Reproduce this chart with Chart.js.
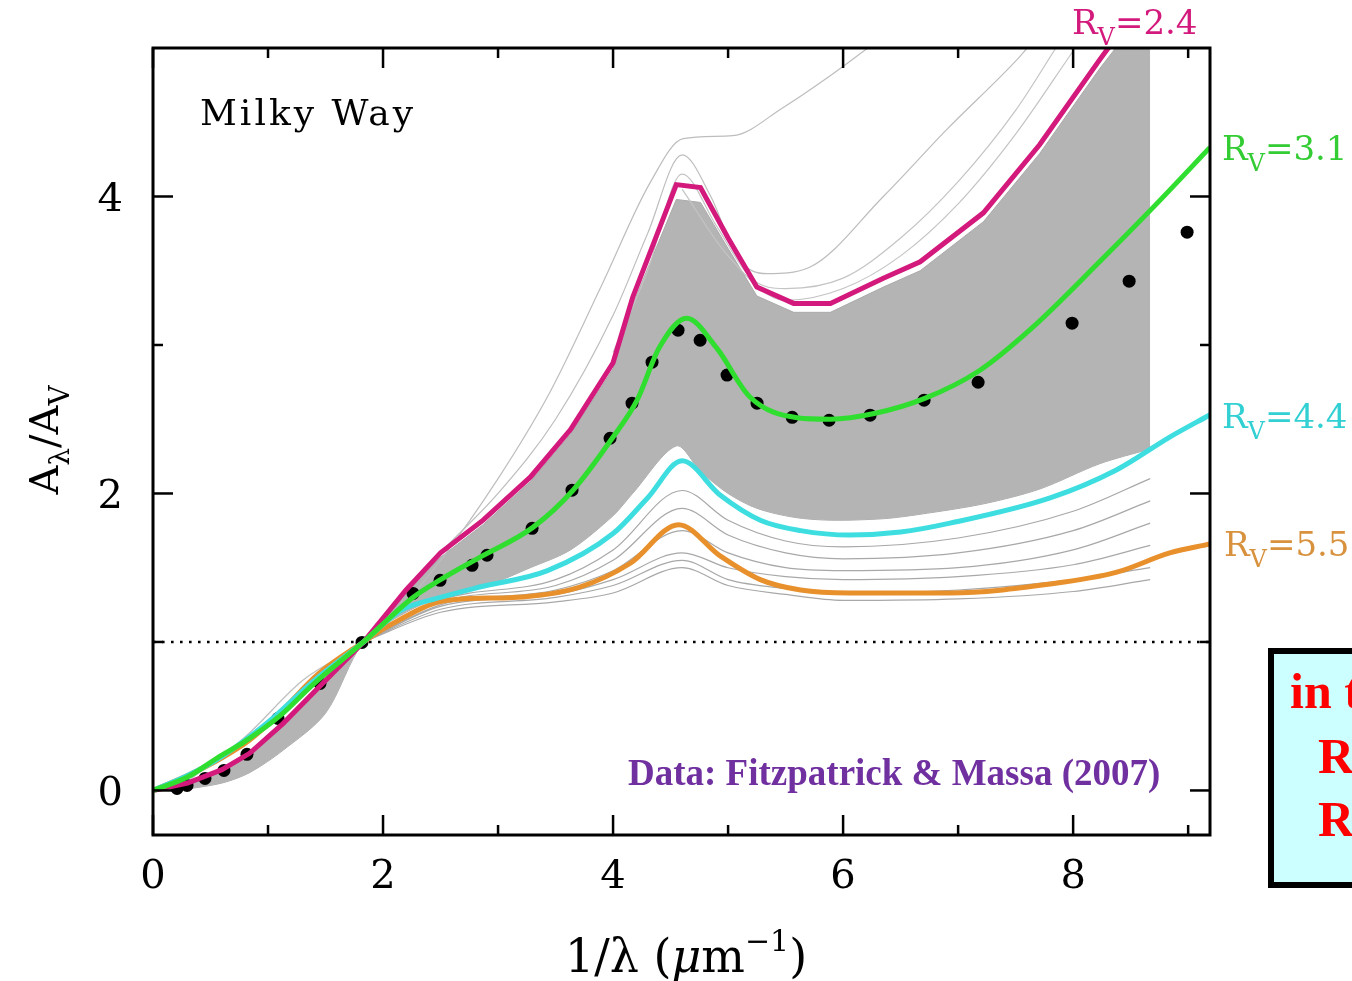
<!DOCTYPE html>
<html><head><meta charset="utf-8">
<script src="https://cdn.jsdelivr.net/npm/chart.js@4"></script>
<style>html,body{margin:0;padding:0;background:#fff;}#wrap{width:1352px;height:981px;position:relative;}</style>
</head><body><div id="wrap"><canvas id="c" width="1352" height="981"></canvas></div>
<script>
// ---- axis ticks ----
const xMajorTicks = [0, 2, 4, 6, 8];
const xTickLabels = ['0', '2', '4', '6', '8'];
const xMinorTicks = [1, 3, 5, 7, 9];
const yMajorTicks = [0, 2, 4];
const yTickLabels = ['0', '2', '4'];
const yMinorTicks = [1, 3];

// ---- R_V = 2.4 ----
const rv24X = [0, 0.3, 0.6, 0.84, 1.13, 1.5, 1.83, 2.2, 2.5, 2.87, 3.28, 3.63, 4.0, 4.17, 4.55, 4.76, 5.0, 5.25, 5.57, 5.89, 6.35, 6.67, 7.22, 7.71, 8.23, 8.4];
const rv24Y = [0, 0.05, 0.14, 0.25, 0.45, 0.74, 1.0, 1.35, 1.60, 1.82, 2.11, 2.43, 2.88, 3.32, 4.08, 4.06, 3.72, 3.39, 3.28, 3.28, 3.45, 3.56, 3.89, 4.35, 4.92, 5.1];
// ---- R_V = 3.1 ----
const rv31X = [0, 0.3, 0.56, 0.8, 1.1, 1.4, 1.83, 2.26, 2.5, 2.84, 3.3, 3.65, 4.0, 4.21, 4.4, 4.64, 4.9, 5.19, 5.6, 5.89, 6.28, 6.71, 7.19, 7.65, 8.23, 8.7, 9.19];
const rv31Y = [0, 0.09, 0.22, 0.33, 0.5, 0.72, 1.0, 1.30, 1.42, 1.57, 1.77, 2.02, 2.38, 2.63, 2.98, 3.18, 2.98, 2.65, 2.51, 2.50, 2.54, 2.64, 2.83, 3.12, 3.56, 3.93, 4.33];
// ---- R_V = 4.4 ----
const rv44X = [0, 0.3, 0.6, 1.0, 1.4, 1.83, 2.15, 2.5, 2.84, 3.43, 4.0, 4.3, 4.6, 4.93, 5.28, 5.63, 6.06, 6.5, 6.93, 7.8, 8.38, 8.84, 9.19];
const rv44Y = [0, 0.1, 0.23, 0.46, 0.74, 1.0, 1.21, 1.30, 1.37, 1.48, 1.73, 1.97, 2.22, 1.99, 1.82, 1.75, 1.72, 1.74, 1.80, 1.97, 2.16, 2.38, 2.53];
// ---- R_V = 5.5 ----
const rv55X = [0, 0.3, 0.6, 0.84, 1.1, 1.43, 1.83, 2.03, 2.56, 3.13, 3.71, 4.15, 4.57, 4.93, 5.28, 5.63, 6.06, 6.93, 7.8, 8.38, 8.84, 9.19];
const rv55Y = [0, 0.1, 0.22, 0.34, 0.52, 0.78, 1.0, 1.10, 1.28, 1.30, 1.37, 1.53, 1.79, 1.58, 1.42, 1.35, 1.33, 1.33, 1.39, 1.47, 1.60, 1.66];

// ---- Fitzpatrick & Massa (2007) average points ----
const dotX = [0.209, 0.296, 0.452, 0.617, 0.817, 1.087, 1.452, 1.817, 2.261, 2.496, 2.774, 2.904, 3.296, 3.643, 3.974, 4.165, 4.339, 4.565, 4.757, 4.991, 5.252, 5.557, 5.878, 6.235, 6.704, 7.174, 7.991, 8.487, 8.991];
const dotY = [0.013, 0.034, 0.081, 0.135, 0.243, 0.485, 0.721, 0.997, 1.327, 1.415, 1.516, 1.584, 1.765, 2.022, 2.372, 2.608, 2.884, 3.100, 3.032, 2.797, 2.608, 2.513, 2.493, 2.527, 2.628, 2.749, 3.147, 3.430, 3.760];

// ---- dense grey bundle of individual sight lines (envelope) ----
const bandX     = [0.2, 0.3, 0.6, 0.84, 1.13, 1.5, 1.83, 2.2, 2.5, 2.87, 3.28, 3.63, 4.0, 4.17, 4.55, 4.76, 5.0, 5.25, 5.57, 5.89, 6.35, 6.67, 7.22, 7.71, 8.23, 8.67];
const bandUpper = [0.02, 0.05, 0.14, 0.25, 0.45, 0.74, 1.0, 1.33, 1.57, 1.79, 2.08, 2.40, 2.84, 3.27, 3.98, 3.96, 3.65, 3.33, 3.22, 3.22, 3.39, 3.50, 3.83, 4.29, 4.86, 5.30];
const bandLower = [0.0, 0.01, 0.05, 0.12, 0.27, 0.52, 1.0, 1.20, 1.30, 1.37, 1.50, 1.62, 1.85, 2.00, 2.32, 2.15, 2.00, 1.90, 1.84, 1.82, 1.83, 1.86, 1.93, 2.03, 2.20, 2.30];

// ---- individual outlying sight lines (above) ----
const outAX = [0.3, 0.8, 1.3, 1.98, 2.5, 3.0, 3.45, 3.9, 4.32, 4.61, 5.04, 5.48, 5.9, 6.25];
const outAY = [0.06, 0.36, 0.74, 1.08, 1.55, 2.1, 2.68, 3.4, 4.09, 4.39, 4.41, 4.6, 4.82, 5.02];
const outBX = [1.83, 2.5, 3.0, 3.5, 4.0, 4.3, 4.6, 4.85, 5.08, 5.34, 5.7, 6.35, 6.9, 7.51, 7.6];
const outBY = [1.0, 1.6, 2.0, 2.5, 3.2, 3.75, 4.28, 4.0, 3.59, 3.48, 3.52, 4.0, 4.45, 4.92, 5.0];
const outCX = [4.0, 4.3, 4.6, 4.9, 5.2, 5.5, 6.0, 6.5, 7.0, 7.5, 7.85];
const outCY = [2.95, 3.5, 4.15, 3.8, 3.45, 3.38, 3.45, 3.72, 4.1, 4.58, 5.0];
const outDX = [4.6, 5.0, 5.5, 6.0, 6.5, 7.0, 7.5, 8.0];
const outDY = [4.05, 3.6, 3.3, 3.38, 3.6, 3.95, 4.42, 4.98];

// ---- individual sight lines (below the bundle) ----
const lowX  = [1.83, 2.5, 3.5, 4.0, 4.6, 5.0, 5.5, 6.0, 7.0, 8.0, 8.67];
const lowAY = [1.0, 1.28, 1.42, 1.62, 2.02, 1.82, 1.68, 1.64, 1.70, 1.88, 2.10];
const lowBY = [1.0, 1.27, 1.38, 1.55, 1.90, 1.72, 1.60, 1.56, 1.60, 1.75, 1.95];
const lowCY = [1.0, 1.25, 1.35, 1.48, 1.75, 1.60, 1.50, 1.48, 1.50, 1.62, 1.80];
const lowDY = [1.0, 1.24, 1.32, 1.42, 1.60, 1.50, 1.44, 1.42, 1.44, 1.52, 1.65];
const lowEY = [1.0, 1.22, 1.30, 1.38, 1.55, 1.42, 1.36, 1.33, 1.35, 1.42, 1.50];
const lowFY = [1.0, 1.20, 1.27, 1.33, 1.50, 1.38, 1.32, 1.28, 1.29, 1.34, 1.42];

const refLineX = [0, 9.19];
const refLineY = [1, 1];

const zip = (xs, ys) => xs.map((x, i) => ({x: x, y: ys[i]}));

function greyLine(xs, ys, col) {
  return {data: zip(xs, ys), borderColor: col || '#a8a8a8', borderWidth: 1.2, pointRadius: 0,
          fill: false, cubicInterpolationMode: 'monotone', order: 10};
}

const datasets = [
  // 0: band lower
  {data: zip(bandX, bandLower), borderColor: '#aaaaaa', borderWidth: 1, pointRadius: 0, fill: false,
   tension: 0.3, order: 30},
  // 1: band upper filled down to band lower
  {data: zip(bandX, bandUpper), borderColor: '#aaaaaa', borderWidth: 1, pointRadius: 0,
   backgroundColor: '#b4b4b4', fill: 0, tension: 0, order: 29},
  greyLine(outAX, outAY, '#bdbdbd'),
  greyLine(outBX, outBY, '#bdbdbd'),
  greyLine(outCX, outCY, '#c4c4c4'),
  greyLine(outDX, outDY, '#c4c4c4'),
  greyLine(lowX, lowAY), greyLine(lowX, lowBY), greyLine(lowX, lowCY),
  greyLine(lowX, lowDY), greyLine(lowX, lowEY), greyLine(lowX, lowFY),
  // dotted reference line A/Av = 1
  {data: zip(refLineX, refLineY), borderColor: '#000', borderWidth: 2.6, borderDash: [2.6, 6.4], pointRadius: 0,
   fill: false, order: 8},
  // data points
  {data: zip(dotX, dotY), showLine: false, pointRadius: 6.5, pointBackgroundColor: '#000',
   pointBorderColor: '#000', pointBorderWidth: 0, order: 6},
  // coloured model curves
  {data: zip(rv24X, rv24Y), borderColor: '#d4197c', borderWidth: 5, pointRadius: 0, fill: false, tension: 0, order: 4,
   borderJoinStyle: 'miter'},
  {data: zip(rv55X, rv55Y), borderColor: '#e8902c', borderWidth: 5, pointRadius: 0, fill: false,
   cubicInterpolationMode: 'monotone', order: 3},
  {data: zip(rv44X, rv44Y), borderColor: '#3ddde0', borderWidth: 5, pointRadius: 0, fill: false,
   cubicInterpolationMode: 'monotone', order: 2},
  {data: zip(rv31X, rv31Y), borderColor: '#30de30', borderWidth: 5, pointRadius: 0, fill: false,
   cubicInterpolationMode: 'monotone', order: 1}
];

function drawParts(ctx, x, y, parts, align) {
  let total = 0;
  parts.forEach(p => { ctx.font = p.font; total += ctx.measureText(p.t).width + (p.gap || 0); });
  let cx = align === 'center' ? x - total / 2 : x;
  parts.forEach(p => {
    ctx.font = p.font;
    ctx.fillText(p.t, cx, y + (p.dy || 0));
    cx += ctx.measureText(p.t).width + (p.gap || 0);
  });
}

const SERIF = '"DejaVu Serif", serif';

const deco = {
  id: 'deco',
  beforeDraw(chart) {
    const c = chart.ctx; c.save(); c.fillStyle = '#fff'; c.fillRect(0, 0, chart.width, chart.height); c.restore();
  },
  afterDraw(chart) {
    const ctx = chart.ctx, xs = chart.scales.x, ys = chart.scales.y, a = chart.chartArea;
    ctx.save();
    ctx.strokeStyle = '#000'; ctx.lineCap = 'butt';
    const seg = (x1, y1, x2, y2) => { ctx.beginPath(); ctx.moveTo(x1, y1); ctx.lineTo(x2, y2); ctx.stroke(); };
    ctx.lineWidth = 2.5;
    xMajorTicks.forEach(v => { const p = xs.getPixelForValue(v); seg(p, a.bottom, p, a.bottom - 20); seg(p, a.top, p, a.top + 20); });
    xMinorTicks.forEach(v => { const p = xs.getPixelForValue(v); seg(p, a.bottom, p, a.bottom - 10); seg(p, a.top, p, a.top + 10); });
    yMajorTicks.forEach(v => { const p = ys.getPixelForValue(v); seg(a.left, p, a.left + 20, p); seg(a.right, p, a.right - 20, p); });
    yMinorTicks.forEach(v => { const p = ys.getPixelForValue(v); seg(a.left, p, a.left + 10, p); seg(a.right, p, a.right - 10, p); });
    ctx.lineWidth = 3;
    ctx.strokeRect(a.left, a.top, a.right - a.left, a.bottom - a.top);

    // tick labels
    ctx.fillStyle = '#000';
    ctx.font = '40px ' + SERIF;
    ctx.textBaseline = 'alphabetic';
    ctx.textAlign = 'center';
    xMajorTicks.forEach((v, i) => ctx.fillText(xTickLabels[i], xs.getPixelForValue(v), 888));
    ctx.textAlign = 'right';
    yMajorTicks.forEach((v, i) => ctx.fillText(yTickLabels[i], 123, ys.getPixelForValue(v) + 15));
    ctx.textAlign = 'left';

    // x-axis title
    drawParts(ctx, 686, 972, [
      {t: '1/\u03bb (', font: '46px ' + SERIF},
      {t: '\u03bc', font: 'italic 46px ' + SERIF},
      {t: 'm', font: '46px ' + SERIF},
      {t: '\u22121', font: '30px ' + SERIF, dy: -21},
      {t: ')', font: '46px ' + SERIF}
    ], 'center');

    // y-axis title (rotated)
    ctx.save();
    ctx.translate(58, 440);
    ctx.rotate(-Math.PI / 2);
    drawParts(ctx, 0, 0, [
      {t: 'A', font: '40px ' + SERIF},
      {t: '\u03bb', font: '28px ' + SERIF, dy: 11},
      {t: '/A', font: '40px ' + SERIF},
      {t: 'V', font: '28px ' + SERIF, dy: 11}
    ], 'center');
    ctx.restore();

    // Milky Way
    ctx.save();
    ctx.font = '36px ' + SERIF;
    ctx.fillStyle = '#000';
    try { ctx.letterSpacing = '3px'; } catch (e) {}
    ctx.fillText('Milky Way', 200, 125);
    ctx.restore();

    // R_V labels
    const rvLab = (txt, col, x, y) => {
      ctx.fillStyle = col;
      drawParts(ctx, x, y, [
        {t: 'R', font: '34px ' + SERIF},
        {t: 'V', font: '24px ' + SERIF, dy: 11},
        {t: txt, font: '34px ' + SERIF}
      ], 'left');
    };
    rvLab('=2.4', '#d4197c', 1072, 34);
    rvLab('=3.1', '#33cc33', 1222, 160);
    rvLab('=4.4', '#33d0d3', 1222, 428);
    rvLab('=5.5', '#d8923e', 1224, 556);

    // data credit
    ctx.fillStyle = '#7030a0';
    ctx.font = 'bold 37px "Liberation Serif", serif';
    ctx.fillText('Data: Fitzpatrick & Massa (2007)', 628, 785);

    // cut-off annotation box
    ctx.fillStyle = '#ccffff';
    ctx.fillRect(1271, 651, 200, 234);
    ctx.strokeStyle = '#000'; ctx.lineWidth = 6;
    ctx.strokeRect(1271, 651, 200, 234);
    ctx.fillStyle = '#ff0000';
    ctx.font = 'bold 50px "Liberation Serif", serif';
    ctx.fillText('in the', 1290, 708);
    ctx.fillText('R', 1318, 773);
    ctx.fillText('R', 1318, 836);
    ctx.restore();
  }
};

new Chart(document.getElementById('c'), {
  type: 'line',
  data: {datasets: datasets},
  options: {
    responsive: false, animation: false, devicePixelRatio: 1,
    layout: {padding: {left: 153, right: 142, top: 48, bottom: 146}},
    scales: {
      x: {type: 'linear', min: 0, max: 9.19, display: false},
      y: {type: 'linear', min: -0.3, max: 5.0, display: false}
    },
    plugins: {legend: {display: false}, tooltip: {enabled: false}},
    elements: {point: {radius: 0}}
  },
  plugins: [deco]
});
</script></body></html>
